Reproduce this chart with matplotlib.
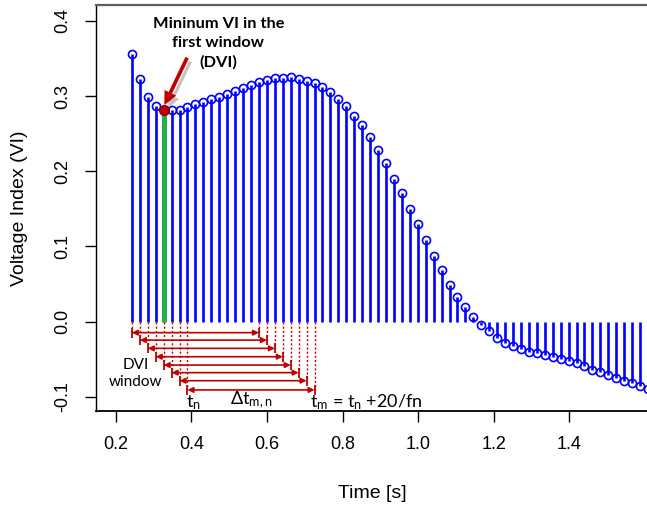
import numpy as np
import matplotlib
matplotlib.use("Agg")
import matplotlib.pyplot as plt
from matplotlib import patheffects
from matplotlib.patches import ArrowStyle

plt.rcParams["font.family"] = ["Liberation Sans", "DejaVu Sans"]
plt.rcParams["mathtext.fontset"] = "custom"
plt.rcParams["mathtext.rm"] = "Lato"
plt.rcParams["mathtext.it"] = "Lato"
plt.rcParams["mathtext.default"] = "rm"

# Sampled voltage index (one sample every 1.25 cycles at 60 Hz)
time_s = [0.243, 0.264, 0.285, 0.306, 0.327, 0.348, 0.369, 0.390, 0.411, 0.432,
          0.453, 0.474, 0.495, 0.516, 0.537, 0.558, 0.579, 0.600, 0.621, 0.642,
          0.663, 0.684, 0.705, 0.726, 0.747, 0.768, 0.789, 0.810, 0.831, 0.852,
          0.873, 0.894, 0.915, 0.936, 0.957, 0.978, 0.999, 1.020, 1.041, 1.062,
          1.083, 1.104, 1.125, 1.146, 1.167, 1.188, 1.209, 1.230, 1.251, 1.272,
          1.293, 1.314, 1.335, 1.356, 1.377, 1.398, 1.419, 1.440, 1.461, 1.482,
          1.503, 1.524, 1.545, 1.566, 1.587, 1.608]
vi = [0.356, 0.323, 0.299, 0.287, 0.2810, 0.2815, 0.282, 0.286, 0.289, 0.292,
      0.296, 0.299, 0.303, 0.307, 0.311, 0.315, 0.319, 0.321, 0.324, 0.324,
      0.325, 0.323, 0.320, 0.317, 0.312, 0.305, 0.296, 0.287, 0.274, 0.262,
      0.245, 0.229, 0.211, 0.190, 0.171, 0.150, 0.130, 0.109, 0.088, 0.069,
      0.049, 0.033, 0.019, 0.006, -0.005, -0.013, -0.022, -0.028, -0.032, -0.037,
      -0.040, -0.041, -0.044, -0.047, -0.050, -0.052, -0.055, -0.059, -0.064, -0.067,
      -0.071, -0.075, -0.079, -0.082, -0.086, -0.089]

window_len = 8        # samples in the DVI window
span = 16             # samples in 20/fn
arrow_levels = [-0.0146, -0.0245, -0.0355, -0.0466, -0.0577, -0.0678, -0.0785, -0.0908]

x_ticks = [0.2, 0.4, 0.6, 0.8, 1.0, 1.2, 1.4]
x_tick_labels = ["0.2", "0.4", "0.6", "0.8", "1.0", "1.2", "1.4"]
y_ticks = [-0.1, 0.0, 0.1, 0.2, 0.3, 0.4]
y_tick_labels = ["-0.1", "0.0", "0.1", "0.2", "0.3", "0.4"]

t = np.array(time_s)
v = np.array(vi)
i_dvi = int(np.argmin(v[:window_len]))

BLUE = "#0000FF"
RED = "#C00000"
GREEN = "#22B14C"

fig = plt.figure(figsize=(6.47, 5.08), dpi=100)
ax = fig.add_axes([96 / 647, (508 - 411) / 508, (648 - 96) / 647, (411 - 5) / 508])
ax.set_xlim(0.148, 1.608)
ax.set_ylim(-0.1188, 0.4212)

# stems and hollow markers
ax.vlines(t, 0, v, color=BLUE, lw=1.9, zorder=2)
ax.plot(t, v, "o", ms=5.8, mfc="none", mec=BLUE, mew=1.2, zorder=3, clip_on=True)

# minimum of the first window
ax.vlines(t[i_dvi], 0, v[i_dvi], color=GREEN, lw=3.6, zorder=4)
ax.plot(t[i_dvi], v[i_dvi], "o", ms=7, mfc=RED, mec="#8B0000", mew=1.0, zorder=5)

# window / span arrows
h = 0.0066
for k in range(window_len):
    lev = arrow_levels[k]
    x0, x1 = t[k], t[k + span]
    ax.vlines([x0, x1], -0.001, lev, color=RED, lw=1.0, linestyles=(0, (1.5, 1.5)), zorder=2)
    ax.vlines([x0, x1], lev - h, lev + h, color=RED, lw=1.3, zorder=3)
    ax.annotate("", xy=(x1, lev), xytext=(x0, lev),
                arrowprops=dict(arrowstyle="<|-|>", color=RED, lw=1.2,
                                shrinkA=0, shrinkB=0, mutation_scale=8))

# callout arrow
ann = ax.annotate("", xy=(t[i_dvi] + 0.003, v[i_dvi] + 0.008), xytext=(0.3886, 0.3507),
                  arrowprops=dict(arrowstyle=ArrowStyle.Simple(head_length=0.9, head_width=0.85,
                                                               tail_width=0.22),
                                  mutation_scale=10, fc=RED, ec=RED, lw=0.5,
                                  shrinkA=0, shrinkB=0))
ann.arrow_patch.set_path_effects([
    patheffects.SimplePatchShadow(offset=(2.5, -2.5), shadow_rgbFace="#9a9a9a", alpha=0.6),
    patheffects.Normal()])

ax.text(0.4715, 0.3705, "Mininum VI in the\nfirst window\n(DVI)", family="Lato",
        weight="bold", fontsize=11.8, ha="center", va="center", linespacing=1.47, zorder=6)
ax.text(0.2524, -0.0687, "DVI\nwindow", family="Lato", fontsize=11, ha="center",
        va="center", linespacing=1.25)
ax.text(0.386, -0.1135, r"$t_n$", family="Lato", fontsize=13, ha="left", va="baseline")
ax.text(0.5024, -0.1100, r"$\Delta t_{m,n}$", family="Lato", fontsize=13, ha="left", va="baseline")
ax.text(0.714, -0.1135, r"$t_m$ = $t_n$ +20/fn", family="Lato", fontsize=13, ha="left", va="baseline")

ax.set_xticks(x_ticks, x_tick_labels)
ax.set_yticks(y_ticks, y_tick_labels)
ax.tick_params(axis="both", direction="out", length=8, width=1.0, labelsize=13, color="black")
ax.tick_params(axis="x", pad=10)
ax.tick_params(axis="y", pad=9.5)
for lab in ax.get_yticklabels():
    lab.set_rotation(90)
    lab.set_va("center")

ax.spines["right"].set_visible(False)
ax.spines["top"].set_color("#5e5e5e")
ax.spines["top"].set_linewidth(1.6)
ax.spines["left"].set_linewidth(1.0)
ax.spines["bottom"].set_linewidth(1.3)

ax.set_xlabel("Time [s]", fontsize=14)
ax.set_ylabel("Voltage Index (VI)", fontsize=14)
ax.xaxis.set_label_coords(0.5, -0.182)
ax.yaxis.set_label_coords(-0.123, 0.5)

fig.savefig("out.png", dpi=100)
